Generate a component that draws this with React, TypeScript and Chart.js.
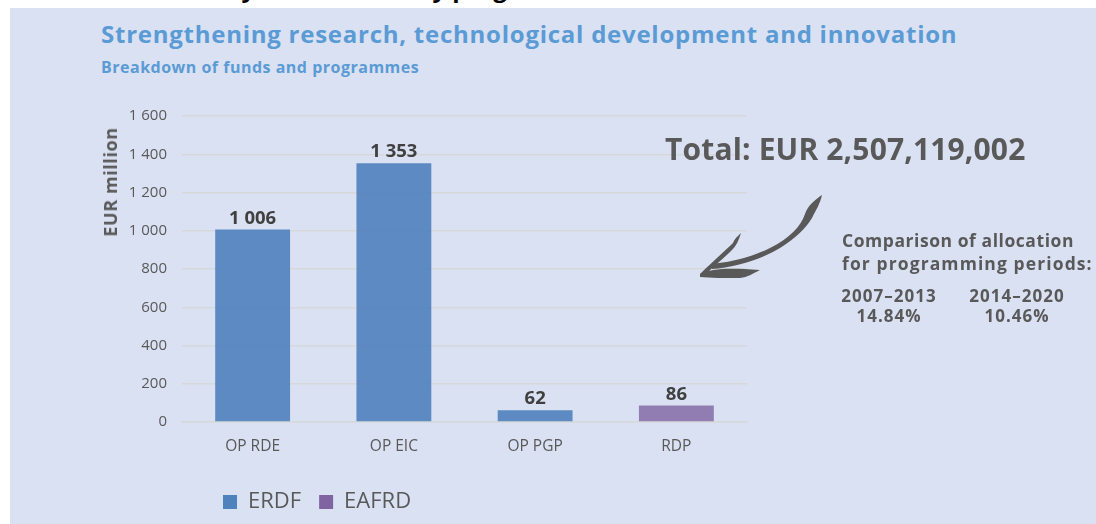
import React, { useEffect, useRef } from 'react';
import { Chart, registerables } from 'chart.js';

Chart.register(...registerables);

// ---- data ----
const CATEGORIES = ['OP RDE', 'OP EIC', 'OP PGP', 'RDP'];
const SERIES_NAMES = ['ERDF', 'EAFRD'];
const ERDF_VALUES: (number | null)[] = [1006, 1353, 62, null];
const EAFRD_VALUES: (number | null)[] = [null, null, null, 86];
const Y_MIN = 0;
const Y_MAX = 1600;
const Y_STEP = 200;

const TITLE = 'Strengthening research, technological development and innovation';
const SUBTITLE = 'Breakdown of funds and programmes';
const Y_TITLE = 'EUR million';
const TOTAL_TEXT = 'Total: EUR 2,507,119,002';
const COMPARISON_LINES = ['Comparison of allocation', 'for programming periods:'];
const PERIODS = ['2007–2013', '2014–2020'];
const SHARES = ['14.84%', '10.46%'];
const HEADER_CUT = 'Summary of allocation by programme';

// ---- styles ----
const FONT = '"Open Sans", "DejaVu Sans", sans-serif';
const BG = '#dae1f2';
const BLUE_TITLE = '#5b9bd5';
const GREY_TEXT = '#595959';
const GRID = '#d6d8dc';
const BAR_COLORS = ['rgba(79,129,189,0.9)', 'rgba(128,100,162,0.8)'];
const LEGEND_COLORS = ['#4f81bd', '#8064a2'];

const fmt = (v: number) => String(v).replace(/\B(?=(\d{3})+(?!\d))/g, ' ');

const valueLabels = {
  id: 'valueLabels',
  afterDatasetsDraw(chart: any) {
    const ctx = chart.ctx;
    ctx.save();
    ctx.font = `bold 18.5px ${FONT}`;
    ctx.fillStyle = '#404040';
    ctx.textAlign = 'center';
    ctx.textBaseline = 'alphabetic';
    chart.data.datasets.forEach((ds: any, di: number) => {
      const meta = chart.getDatasetMeta(di);
      meta.data.forEach((el: any, i: number) => {
        const v = ds.data[i];
        if (v === null || v === undefined) return;
        ctx.fillText(fmt(v), el.x, el.y - 6);
      });
    });
    ctx.restore();
  },
};

const legendShift = {
  id: 'legendShift',
  afterLayout(chart: any) {
    const lg = chart.legend;
    if (!lg) return;
    const w = lg.right - lg.left;
    lg.left = chart.chartArea.left + 41 - 18;
    lg.right = lg.left + w;
  },
};

function BarChart() {
  const ref = useRef<HTMLCanvasElement | null>(null);
  useEffect(() => {
    if (!ref.current) return;
    const chart = new Chart(ref.current, {
      type: 'bar',
      data: {
        labels: CATEGORIES,
        datasets: [
          {
            label: SERIES_NAMES[0],
            data: ERDF_VALUES,
            backgroundColor: BAR_COLORS[0],
            borderWidth: 0,
          },
          {
            label: SERIES_NAMES[1],
            data: EAFRD_VALUES,
            backgroundColor: BAR_COLORS[1],
            borderWidth: 0,
          },
        ],
      } as any,
      options: {
        animation: false,
        responsive: false,
        maintainAspectRatio: false,
        layout: { padding: { top: 0, right: 13, left: 0, bottom: 0 } },
        datasets: {
          bar: { grouped: false, barPercentage: 0.53, categoryPercentage: 1 },
        } as any,
        scales: {
          x: {
            grid: { display: false, drawTicks: false },
            border: { display: true, color: GRID, width: 1.5 },
            afterFit: (s: any) => {
              s.height = 51;
            },
            ticks: {
              padding: 15,
              color: GREY_TEXT,
              font: { family: FONT, size: 15.5 },
              autoSkip: false,
              maxRotation: 0,
            },
          },
          y: {
            min: Y_MIN,
            max: Y_MAX,
            grid: { color: GRID, lineWidth: 1.5, drawTicks: false },
            border: { display: false },
            afterFit: (s: any) => {
              s.width = 82;
            },
            ticks: {
              stepSize: Y_STEP,
              padding: 15,
              color: GREY_TEXT,
              font: { family: FONT, size: 15 },
              callback: (v: any) => fmt(Number(v)),
            },
          },
        } as any,
        plugins: {
          legend: {
            position: 'bottom',
            align: 'start',
            labels: {
              boxWidth: 14,
              boxHeight: 14,
              padding: 18,
              color: GREY_TEXT,
              font: { family: FONT, size: 22 },
              generateLabels: (chart: any) =>
                (Chart.defaults.plugins.legend.labels.generateLabels as any)(chart).map(
                  (l: any, i: number) => ({ ...l, fillStyle: LEGEND_COLORS[i], strokeStyle: LEGEND_COLORS[i], lineWidth: 0 })
                ),
            },
          },
          tooltip: { enabled: false },
        } as any,
      },
      plugins: [valueLabels, legendShift],
    });
    return () => chart.destroy();
  }, []);
  return (
    <canvas
      ref={ref}
      width={660}
      height={431}
      style={{ position: 'absolute', left: 100, top: 92, width: 660, height: 431, display: 'block' }}
    />
  );
}

const txt = (extra: React.CSSProperties): React.CSSProperties => ({
  position: 'absolute',
  fontFamily: FONT,
  fontWeight: 700,
  whiteSpace: 'nowrap',
  lineHeight: 1,
  margin: 0,
  ...extra,
});

function Arrow() {
  return (
    <svg
      width={1096}
      height={524}
      style={{ position: 'absolute', left: 0, top: 0, pointerEvents: 'none' }}
    >
      <g fill={GREY_TEXT}>
        <path d="M 822 195 C 816 199, 808 205, 805 214 C 801 226, 790 238, 770 248 C 750 258, 730 262, 712 264 L 712 269 C 735 267, 760 260, 780 248 C 796 238, 806 228, 812 218 C 816 210, 820 204, 822 195 Z" />
        <path d="M 700 274 C 712 262, 726 250, 733 243 C 735 238, 738 236, 741 233 C 739 240, 736 246, 732 250 C 724 258, 714 266, 706 274 Z" />
        <path d="M 700 274 C 712 268, 730 268, 760 270 C 752 274, 748 277, 740 278 C 725 278, 710 278, 700 277 Z" />
      </g>
    </svg>
  );
}

export default function App() {
  return (
    <div style={{ position: 'absolute', left: 0, top: 0, width: 1096, height: 524, overflow: 'hidden', background: '#fff' }}>
      <div style={txt({ left: 140, top: -24, fontSize: 24, color: '#000' })}>{HEADER_CUT}</div>
      <div style={{ position: 'absolute', left: 10, top: 8, right: 0, bottom: 0, background: BG }} />
      <div style={txt({ left: 101, top: 22, fontSize: 24, letterSpacing: 0.75, color: BLUE_TITLE })}>{TITLE}</div>
      <div style={txt({ left: 101, top: 59, fontSize: 16, letterSpacing: 0.5, color: BLUE_TITLE })}>{SUBTITLE}</div>
      <BarChart />
      <div
        style={txt({
          left: 110,
          top: 182,
          fontSize: 18,
          letterSpacing: 0.6,
          color: GREY_TEXT,
          transform: 'translate(-50%, -50%) rotate(-90deg)',
        })}
      >
        {Y_TITLE}
      </div>
      <div style={txt({ left: 665, top: 134, fontSize: 30, letterSpacing: 0.15, color: GREY_TEXT })}>{TOTAL_TEXT}</div>
      <Arrow />
      <div style={txt({ left: 842, top: 232, fontSize: 17.5, letterSpacing: 0.55, color: GREY_TEXT })}>{COMPARISON_LINES[0]}</div>
      <div style={txt({ left: 842, top: 255, fontSize: 17.5, letterSpacing: 1.1, color: GREY_TEXT })}>{COMPARISON_LINES[1]}</div>
      {PERIODS.map((p, i) => (
        <div
          key={p}
          style={txt({
            left: i === 0 ? 889 : 1017,
            top: 287,
            fontSize: 17,
            letterSpacing: 1,
            color: GREY_TEXT,
            transform: 'translateX(-50%)',
            textAlign: 'center',
          })}
        >
          <div>{p}</div>
          <div style={{ marginTop: 3 }}>{SHARES[i]}</div>
        </div>
      ))}
    </div>
  );
}
